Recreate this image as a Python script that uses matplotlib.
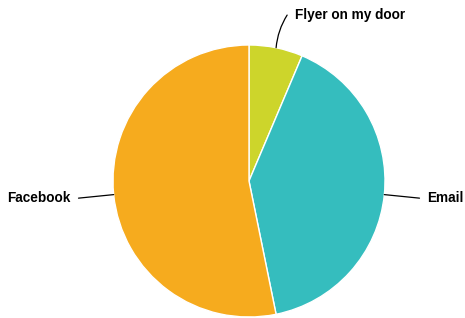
import numpy as np
import matplotlib.pyplot as plt

labels = ['Flyer on my door', 'Email', 'Facebook']
values = [3, 19, 25]
colors = ['#cdd52b', '#35bdbe', '#f6ab1e']

W, H = 465, 318
cx, cy, R = 249, 181, 136   # pie centre / radius in pixels

fig = plt.figure(figsize=(W / 100.0, H / 100.0), dpi=100)
ax = fig.add_axes([(cx - R) / W, (H - cy - R) / H, 2.0 * R / W, 2.0 * R / H])

wedges, _ = ax.pie(values, colors=colors, startangle=90, counterclock=False,
                   radius=1.0, wedgeprops=dict(edgecolor='white', linewidth=1.0))
ax.set_xlim(-1, 1)
ax.set_ylim(-1, 1)
ax.axis('off')

gap = 8.0 / R
for w, lab in zip(wedges, labels):
    mid = np.deg2rad((w.theta1 + w.theta2) / 2.0)
    x0, y0 = np.cos(mid), np.sin(mid)
    x1, y1 = 1.26 * x0, 1.26 * y0
    rad = 0.0
    if lab == 'Flyer on my door':
        x1, y1 = x1 + 4.0 / R, 1.22
        rad = 0.12
    ax.annotate('', xy=(x0, y0), xytext=(x1, y1), annotation_clip=False,
                arrowprops=dict(arrowstyle='-', color='black', lw=0.9,
                                shrinkA=0, shrinkB=0,
                                connectionstyle='arc3,rad=%s' % rad))
    if x0 >= 0:
        ax.text(x1 + gap, y1, lab, ha='left', va='center', fontsize=9.8,
                fontweight='bold', family='Liberation Sans', clip_on=False)
    else:
        ax.text(x1 - gap, y1, lab, ha='right', va='center', fontsize=9.8,
                fontweight='bold', family='Liberation Sans', clip_on=False)

fig.savefig('out.png', dpi=100)
